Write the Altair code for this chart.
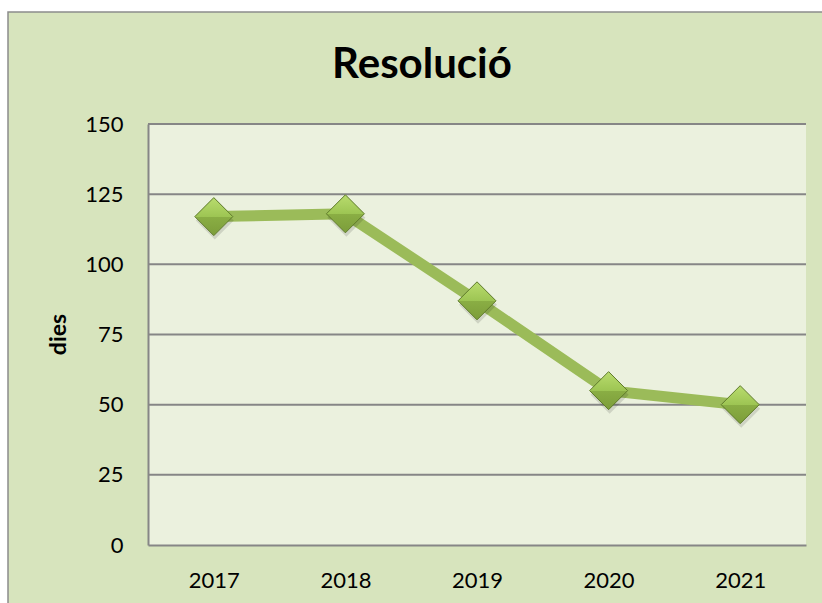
import altair as alt
import pandas as pd

years = ["2017", "2018", "2019", "2020", "2021"]
dies = [117, 118, 87, 55, 50]
y_ticks = [0, 25, 50, 75, 100, 125, 150]
grid_values = [25, 50, 75, 100, 125, 150]
title_text = "Resolució"
y_title = "dies"

df = pd.DataFrame({"year": years, "dies": dies})
grid_df = pd.DataFrame({"v": grid_values})

W, H = 658, 421
FONT = "Lato"
OUTER = "#D7E4BD"
INNER = "#EBF1DE"
GRID = "#868686"
LINE = "#9BBB59"

one = alt.Data(values=[{"t": title_text}])

outer_rect = alt.Chart(one).mark_rect(
    fill=OUTER, stroke="#8C8C8C", strokeWidth=1.5
).encode(x=alt.value(-140), x2=alt.value(W + 40), y=alt.value(-112), y2=alt.value(H + 80))

inner_rect = alt.Chart(one).mark_rect(fill=INNER).encode(
    x=alt.value(0), x2=alt.value(W), y=alt.value(0), y2=alt.value(H)
)

y_enc = alt.Y(
    "dies:Q",
    scale=alt.Scale(domain=[0, 150], nice=False, zero=True),
    axis=alt.Axis(
        values=y_ticks, grid=False, ticks=False, domainColor=GRID, domainWidth=2,
        labelFont=FONT, labelFontSize=22, labelColor="#000000", labelPadding=25,
        title=y_title, titleFont=FONT, titleFontSize=23, titleFontWeight="bold",
        titleColor="#000000", titleX=-90, titleY=210, titleAngle=270,
        titleAlign="center", titleBaseline="middle", zindex=1,
    ),
)

grid = alt.Chart(grid_df).mark_rule(color=GRID, strokeWidth=2).encode(
    y=alt.Y("v:Q", scale=alt.Scale(domain=[0, 150], nice=False))
)

x_enc = alt.X(
    "year:N", sort=years,
    axis=alt.Axis(
        labelAngle=0, ticks=False, domainColor=GRID, domainWidth=2, title=None,
        labelFont=FONT, labelFontSize=22, labelColor="#000000", labelPadding=25,
        labelBaseline="top", zindex=1,
    ),
)

line = alt.Chart(df).mark_line(color=LINE, strokeWidth=11).encode(x=x_enc, y=y_enc)

shadow = alt.Chart(df).mark_point(
    shape="diamond", size=1444, filled=True, fill="#000000", opacity=0.12,
    strokeWidth=0, yOffset=4, xOffset=1
).encode(x=alt.X("year:N", sort=years), y="dies:Q")

grad = alt.Gradient(
    gradient="linear",
    stops=[
        alt.GradientStop(color="#B9DC6E", offset=0),
        alt.GradientStop(color="#9DC553", offset=0.5),
        alt.GradientStop(color="#8AAE44", offset=0.5),
        alt.GradientStop(color="#7C9D3A", offset=1),
    ],
    x1=0, x2=0, y1=0, y2=1,
)

points = alt.Chart(df).mark_point(
    shape="diamond", size=1444, filled=True, fill=grad, opacity=1,
    stroke="#5E7A2A", strokeWidth=1
).encode(x=alt.X("year:N", sort=years), y="dies:Q")

title = alt.Chart(one).mark_text(
    font=FONT, fontSize=42, fontWeight="bold", color="#000000",
    align="center", baseline="alphabetic"
).encode(x=alt.value(274), y=alt.value(-46), text="t:N")

chart = alt.layer(outer_rect, inner_rect, grid, line, shadow, points, title).properties(
    width=W, height=H,
    padding={"left": 148, "top": 124, "right": 16, "bottom": 58},
    autosize="none",
    background="#FFFFFF",
).configure_view(strokeWidth=0)

chart.save("out.html", embed_options={"renderer": "svg", "actions": False})
